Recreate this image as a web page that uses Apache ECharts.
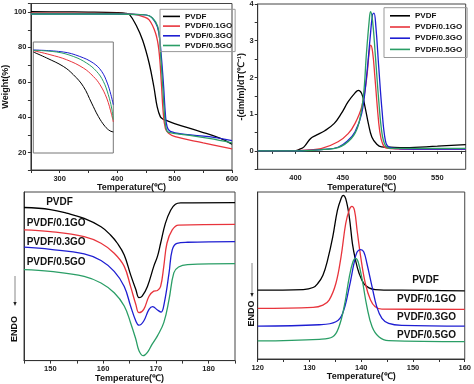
<!DOCTYPE html>
<html><head><meta charset="utf-8">
<script src="https://cdn.jsdelivr.net/npm/echarts@6/dist/echarts.min.js"></script>
<style>html,body{margin:0;padding:0;background:#fff}#c{width:474px;height:384px}</style>
</head><body><div id="c"></div>
<script>
// ---------- DATA ----------
const seriesNames = ['PVDF', 'PVDF/0.1GO', 'PVDF/0.3GO', 'PVDF/0.5GO'];

// TGA (Weight % vs Temperature)
const tgaT_PVDF = [250, 300, 350, 400, 415, 422, 433, 444.5, 455.8, 464, 469.8, 475.4, 480, 484, 500, 546, 580, 600];
const tgaW_PVDF = [100.3, 100.2, 100.1, 99.8, 99.4, 98.5, 92.7, 84, 70.9, 57.5, 46, 40.3, 39, 38.5, 36.5, 31.8, 28, 24.7];
const tgaT_01 = [250, 300, 400, 430, 445, 455.8, 467, 472.7, 477.1, 480, 484, 489.6, 501, 550, 600];
const tgaW_01 = [99.5, 99.5, 99.3, 98.8, 97.5, 95.6, 88, 78.5, 59.4, 44, 33.7, 30.9, 29, 25.5, 22];
const tgaT_03 = [250, 400, 440, 455.8, 467, 472.7, 477, 481, 484, 487, 492.6, 518, 560, 600];
const tgaW_03 = [99, 99, 98.7, 98, 94, 88.4, 74.7, 57.5, 42, 34.7, 32, 30.3, 29, 26.7];
const tgaT_05 = [250, 400, 440, 455.8, 467, 472.7, 476, 479.5, 482.5, 485.5, 490, 520, 560, 600];
const tgaW_05 = [99, 99, 98.7, 98, 94.5, 89, 74.7, 57.5, 42, 33.4, 31.5, 30, 28, 25.5];

// Inset (zoomed TGA detail, relative units)
const insU_PVDF = [0, 16.7, 37.5, 50, 62.5, 72.9, 81.25, 89.6, 95.8, 100];
const insV_PVDF = [91, 85.6, 78, 70.6, 60, 45, 33, 24, 20, 19];
const insU_01 = [0, 20.8, 41.7, 62.5, 75, 83.3, 91.7, 97.9, 100];
const insV_01 = [92.2, 88.6, 84, 76.6, 69, 61.6, 49.5, 34.5, 28];
const insU_03 = [0, 37.5, 58, 75, 85.4, 92.5, 97, 100];
const insV_03 = [92.8, 91, 87, 81, 73.6, 63, 52.5, 43.5];
const insU_05 = [0, 29, 50, 66.7, 79, 87.5, 93.75, 97.9, 100];
const insV_05 = [92.5, 91, 87, 81, 73.6, 64.6, 52.5, 40.5, 30];

// DTG
const dtgT_PVDF = [360, 380, 400, 404, 409, 416, 422, 431, 441, 448.5, 455.7, 463, 466.4, 470, 473.5, 477, 480.7, 486, 491, 500, 516, 550, 580];
const dtgV_PVDF = [0, 0, 0.01, 0.04, 0.11, 0.34, 0.43, 0.55, 0.75, 1.02, 1.34, 1.58, 1.65, 1.56, 1.2, 0.75, 0.38, 0.18, 0.11, 0.1, 0.09, 0.13, 0.17];
const dtgT_01 = [360, 400, 415, 427, 445, 455.7, 463, 470, 475, 478, 479.5, 481.5, 484, 486.5, 489, 492, 496, 520, 580];
const dtgV_01 = [0, 0.01, 0.03, 0.06, 0.25, 0.47, 0.75, 1.2, 1.93, 2.7, 2.88, 2.7, 2.0, 1.2, 0.55, 0.2, 0.08, 0.05, 0.05];
const dtgT_03 = [360, 400, 430, 445, 455.7, 463, 470, 475, 479, 481.4, 483, 485, 488, 491.5, 495, 498.6, 510, 580];
const dtgV_03 = [0, 0, 0.04, 0.1, 0.29, 0.52, 1.02, 2.0, 3.1, 3.7, 3.75, 3.38, 2.29, 1.1, 0.29, 0.11, 0.06, 0.05];
const dtgT_05 = [360, 400, 430, 445, 459, 466.4, 471.7, 475, 478, 479.3, 481.4, 484.3, 488, 491.5, 495, 500, 520, 580];
const dtgV_05 = [0, 0, 0.04, 0.09, 0.34, 0.7, 1.47, 2.65, 3.56, 3.79, 3.56, 2.65, 1.38, 0.47, 0.15, 0.07, 0.07, 0.07];

// DSC heating (melting), arbitrary heat-flow units
const meltT_PVDF = [145, 150, 153.3, 156.4, 159.6, 161.4, 162.7, 164, 165.2, 166.2, 166.8, 167.4, 168.4, 169.6, 170.3, 170.9, 171.8, 172.8, 173.7, 174.7, 185];
const meltV_PVDF = [90.8, 89.6, 87.3, 84.3, 79.4, 74.5, 69.6, 62.7, 51, 42.2, 37.3, 38.2, 44, 55.9, 61.8, 69.6, 81.4, 89.2, 92.7, 93.5, 93.7];
const meltT_01 = [145, 150, 156.4, 159.6, 162.1, 164, 165.2, 166.2, 166.8, 167.7, 168.7, 169.6, 170.3, 170.9, 171.5, 172.1, 173.1, 174.3, 185];
const meltV_01 = [77.5, 76.5, 73.5, 69.6, 63.7, 55.9, 44, 33.3, 28.4, 30.4, 38.2, 41.2, 41.6, 44, 55.9, 69.6, 77.5, 80.4, 80.8];
const meltT_03 = [145, 150, 156.4, 159.6, 162.1, 164, 165.2, 166.2, 166.8, 167.7, 168.7, 169.4, 170.3, 171, 171.6, 172.5, 173.1, 174, 176, 185];
const meltV_03 = [67.3, 66, 63.3, 59.4, 52.9, 44, 32.4, 23.5, 21, 23.5, 30.4, 32, 30, 28.8, 34.3, 52, 65.7, 69.6, 70.2, 70.6];
const meltT_05 = [145, 150, 156.4, 159.6, 162.1, 164, 165.2, 166.2, 166.8, 167.6, 168.4, 169.3, 170.3, 171.5, 172.5, 173.4, 174.3, 176, 185];
const meltV_05 = [53.9, 52.9, 50, 46, 40.2, 32.4, 22.5, 12.7, 5.9, 2.9, 4.9, 9.8, 14.7, 22.5, 36.3, 52, 55.5, 56.9, 57.5];

// DSC cooling (crystallization)
const crysT_PVDF = [120, 128.8, 130.7, 131.6, 132.6, 133.5, 134.5, 135.4, 136.1, 136.5, 137, 137.7, 138.3, 138.9, 139.6, 140.5, 141.5, 142.7, 147.8, 160];
const crysV_PVDF = [41.2, 41.6, 42.8, 45.2, 50.2, 59.2, 73.1, 89, 96, 98, 96, 85, 69.1, 59.2, 51.2, 45.2, 42.6, 41.6, 41.2, 40.8];
const crysT_01 = [120, 130.7, 132.6, 133.8, 135.1, 136.1, 137, 137.7, 138.2, 138.7, 139.2, 139.9, 140.8, 141.8, 142.7, 144, 160];
const crysV_01 = [30.3, 30.9, 32.3, 35.3, 45.2, 61.2, 81, 89.4, 91.4, 89, 77.1, 61.2, 45.2, 35.3, 31.3, 29.9, 29.7];
const crysT_03 = [120, 131.9, 135.1, 136.4, 137.7, 138.6, 139.2, 139.9, 140.5, 141.1, 142.1, 143, 144, 145.3, 147.8, 160];
const crysV_03 = [19.7, 20.5, 22.3, 27.3, 43.2, 57.2, 64.1, 65.5, 64.1, 57.2, 43.2, 31.3, 24.3, 21.3, 20.1, 19.7];
const crysT_05 = [120, 131.9, 134.5, 135.7, 136.7, 137.7, 138.4, 138.9, 139.4, 140.2, 141.1, 142.1, 143.4, 145.3, 160];
const crysV_05 = [10.8, 11.8, 13.3, 19.3, 31.3, 49.2, 58.2, 60.2, 58.2, 47.2, 31.3, 19.3, 13.3, 11, 10.4];

// Tick labels
const tgaXLabels = [300, 400, 500, 600];
const tgaYLabels = [20, 40, 60, 80, 100];
const dtgXLabels = [400, 450, 500, 550];
const dtgXTicks = [375, 400, 425, 450, 475, 500, 525, 550, 575];
const dtgYLabels = [0, 1, 2, 3, 4];
const meltXLabels = [150, 160, 170, 180];
const crysXLabels = [120, 130, 140, 150, 160];

// ---------- CHART ----------
const colors = ['#000000', '#e8343c', '#1e1ed2', '#2a9e66'];
const FF = 'Liberation Sans, Arial, sans-serif';
const zip = (a, b) => a.map((x, i) => [x, b[i]]);
const lab = {fontFamily: FF, fontSize: 7.5, fontWeight: 'bold', color: '#222'};
const nameSt = {fontFamily: FF, fontSize: 9, fontWeight: 'bold', color: '#111'};
const axLine = {show: true, lineStyle: {color: '#333', width: 1}};
const grids = [
  {left: 25, top: 3.5, width: 207, height: 166.5},
  {left: 257.7, top: 3.3, width: 208, height: 166},
  {left: 24, top: 192, width: 211, height: 170.7},
  {left: 257.7, top: 192, width: 210, height: 167},
  {left: 33.3, top: 42, width: 80, height: 111}
].map((g, i) => Object.assign({show: true, borderColor: i === 4 ? '#777' : '#444', borderWidth: 1, backgroundColor: 'transparent'}, g));

function xAx(gi, min, max, interval, labels, gap, extra) {
  return Object.assign({
    type: 'value', gridIndex: gi, min, max, interval,
    name: 'Temperature(℃)', nameLocation: 'middle', nameGap: gap, nameTextStyle: nameSt,
    axisLine: axLine, splitLine: {show: false},
    axisTick: {show: true, inside: false, length: 3, lineStyle: {color: '#333'}},
    axisLabel: Object.assign({margin: 4.5, formatter: v => labels.includes(v) ? String(v) : ''}, lab)
  }, extra || {});
}

const option = {
  animation: false,
  backgroundColor: '#fff',
  color: colors,
  grid: grids,
  legend: [
    {orient: 'vertical', left: 160, top: 9.3, padding: [3, 3, 2, 3], itemGap: 1.5, itemWidth: 17, itemHeight: 1.6, icon: 'rect',
     borderColor: '#999', borderWidth: 1, textStyle: {fontFamily: FF, fontSize: 8, fontWeight: 'bold', color: '#111', lineHeight: 8.2},
     data: seriesNames},
    {orient: 'vertical', left: 384, top: 7.7, padding: [4, 5, 4, 6], itemGap: 3, itemWidth: 20, itemHeight: 1.6, icon: 'rect',
     borderColor: '#999', borderWidth: 1, textStyle: {fontFamily: FF, fontSize: 8, fontWeight: 'bold', color: '#111', lineHeight: 8.2},
     data: seriesNames}
  ],
  xAxis: [
    xAx(0, 250, 600, 50, tgaXLabels, 12),
    xAx(1, 360, 580, 20, dtgXLabels, 12, {
      axisTick: {show: true, length: 3, lineStyle: {color: '#333'}, customValues: dtgXTicks},
      axisLabel: Object.assign({margin: 4.5, customValues: dtgXLabels}, lab)
    }),
    xAx(2, 145, 185, 5, meltXLabels, 10.5),
    xAx(3, 120, 160, 5, crysXLabels, 12.5),
    {type: 'value', gridIndex: 4, min: 0, max: 100, show: false}
  ],
  yAxis: [
    {type: 'value', gridIndex: 0, min: 10, max: 105, interval: 10,
     name: 'Weight(%)', nameLocation: 'middle', nameGap: 16.5, nameTextStyle: nameSt,
     axisLine: axLine, splitLine: {show: false},
     axisTick: {show: true, length: 3, lineStyle: {color: '#333'}},
     axisLabel: Object.assign({margin: 4.5, formatter: v => tgaYLabels.includes(v) ? String(v) : ''}, lab)},
    {type: 'value', gridIndex: 1, min: -0.5, max: 4, interval: 0.5,
     name: '-(dm/m)/dT(℃⁻¹)', nameLocation: 'middle', nameGap: 6, nameTextStyle: nameSt,
     axisLine: axLine, splitLine: {show: false},
     axisTick: {show: true, length: 3, lineStyle: {color: '#333'}},
     axisLabel: Object.assign({margin: 4, formatter: v => dtgYLabels.includes(v) ? String(v) : ''}, lab)},
    {type: 'value', gridIndex: 2, min: 0, max: 100, axisLine: axLine, axisTick: {show: false}, axisLabel: {show: false}, splitLine: {show: false}},
    {type: 'value', gridIndex: 3, min: 0, max: 100, axisLine: axLine, axisTick: {show: false}, axisLabel: {show: false}, splitLine: {show: false}},
    {type: 'value', gridIndex: 4, min: 0, max: 100, show: false}
  ],
  series: [],
  graphic: []
};

const groups = [
  {gi: 0, data: [[tgaT_PVDF, tgaW_PVDF], [tgaT_01, tgaW_01], [tgaT_03, tgaW_03], [tgaT_05, tgaW_05]]},
  {gi: 4, data: [[insU_PVDF, insV_PVDF], [insU_01, insV_01], [insU_03, insV_03], [insU_05, insV_05]], w: 1},
  {gi: 1, data: [[dtgT_PVDF, dtgV_PVDF], [dtgT_01, dtgV_01], [dtgT_03, dtgV_03], [dtgT_05, dtgV_05]]},
  {gi: 2, data: [[meltT_PVDF, meltV_PVDF], [meltT_01, meltV_01], [meltT_03, meltV_03], [meltT_05, meltV_05]]},
  {gi: 3, data: [[crysT_PVDF, crysV_PVDF], [crysT_01, crysV_01], [crysT_03, crysV_03], [crysT_05, crysV_05]]}
];
groups.forEach(g => {
  g.data.forEach((d, i) => {
    option.series.push({
      type: 'line', name: seriesNames[i], xAxisIndex: g.gi, yAxisIndex: g.gi,
      data: zip(d[0], d[1]), showSymbol: false, smooth: 0.4,
      lineStyle: {width: g.w || 1.3, color: colors[i]}, itemStyle: {color: colors[i]}, silent: true
    });
  });
});

// annotations
const txt = (x, y, s, size, align, rot) => ({type: 'text', x, y, rotation: rot || 0,
  style: {text: s, fontFamily: FF, fontSize: size, fontWeight: 'bold', fill: '#111', align: align || 'left', verticalAlign: 'middle'}});
option.graphic.push(
  txt(59.5, 202.7, 'PVDF', 10, 'center'),
  txt(26.7, 223, 'PVDF/0.1GO', 10),
  txt(26.7, 242, 'PVDF/0.3GO', 10),
  txt(26.7, 262.7, 'PVDF/0.5GO', 10),
  txt(425.5, 280.7, 'PVDF', 10, 'center'),
  txt(426.5, 299.3, 'PVDF/0.1GO', 10, 'center'),
  txt(426.5, 317.7, 'PVDF/0.3GO', 10, 'center'),
  txt(426.5, 335, 'PVDF/0.5GO', 10, 'center'),
  txt(15, 329, 'ENDO', 9, 'center', Math.PI / 2),
  txt(252, 313.5, 'ENDO', 9, 'center', Math.PI / 2),
  {type: 'line', shape: {x1: 15, y1: 276, x2: 15, y2: 303}, style: {stroke: '#888', lineWidth: 1}},
  {type: 'polygon', shape: {points: [[13.3, 302], [16.7, 302], [15, 306]]}, style: {fill: '#222'}},
  {type: 'line', shape: {x1: 252, y1: 263, x2: 252, y2: 294}, style: {stroke: '#888', lineWidth: 1}},
  {type: 'polygon', shape: {points: [[250.3, 293], [253.7, 293], [252, 297]]}, style: {fill: '#222'}}
);

const chart = echarts.init(document.getElementById('c'), null, {renderer: 'canvas'});
chart.setOption(option);
</script></body></html>
